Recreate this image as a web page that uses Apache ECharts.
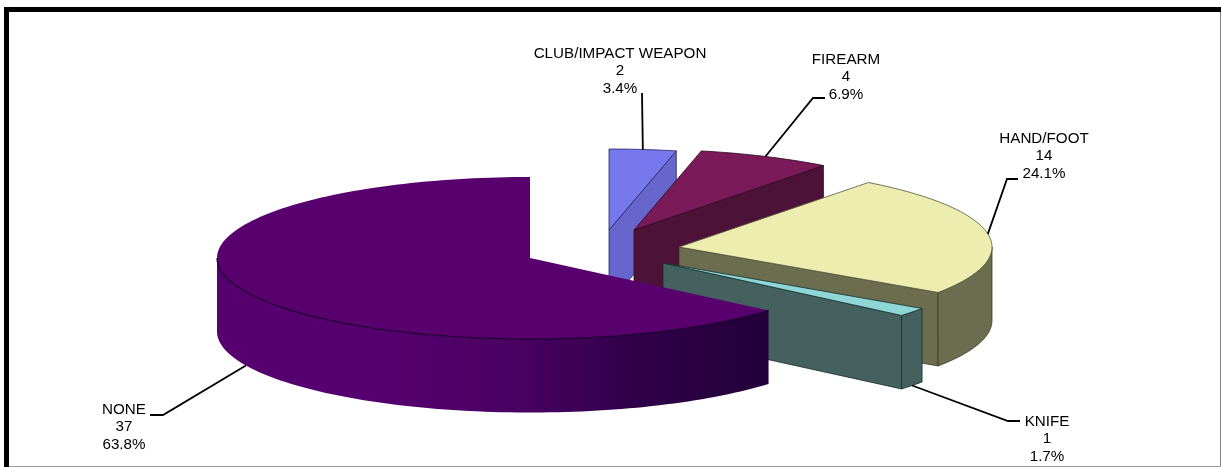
<!DOCTYPE html>
<html>
<head>
<meta charset="utf-8">
<style>html,body{margin:0;padding:0;background:#fff}#c{width:1221px;height:467px}</style>
<script src="https://cdn.jsdelivr.net/npm/echarts@6/dist/echarts.min.js"></script>
</head>
<body>
<div id="c"></div>
<script>
var categories = ['CLUB/IMPACT WEAPON', 'FIREARM', 'HAND/FOOT', 'KNIFE', 'NONE'];
var counts = [2, 4, 14, 1, 37];
var percents = ['3.4%', '6.9%', '24.1%', '1.7%', '63.8%'];

// Styling / layout, one entry per slice
var topColors  = ['#7878ee', '#7a1a58', '#ededb0', '#8fd6d6', '#59006f'];
var sideColors = ['#6666cc', '#4d1238', '#6c6c4e', '#44605f', null];
var edgeColors = ['#23235e', '#2e0a22', '#3a3a25', '#16302f', '#1c002e'];
var explode = [[79, -28], [104, -28], [149, -11], [133, 5], [0, 0]];
var labelPos = [[620, 53.5], [846, 59.5], [1044, 138.5], [1047, 421.5], [124, 409.5]];
var elbows = [
  [[642, 93]],
  [[825, 98], [813, 98]],
  [[1018, 179], [1007, 179]],
  [[1020, 421], [1008, 421]],
  [[150, 415], [163, 415]]
];
var anchorOnBottom = [false, false, false, true, true];

var CX = 530, CY = 258, RX = 313, RY = 81, DEPTH = 73.5;
var LINE = 17.6;
var total = counts.reduce(function (a, b) { return a + b; }, 0);
var starts = [], acc = 0;
counts.forEach(function (v) { starts.push(acc / total * 360); acc += v; });

function rim(i, deg) {
  var a = deg * Math.PI / 180;
  return [CX + explode[i][0] + RX * Math.sin(a), CY + explode[i][1] - RY * Math.cos(a)];
}
function down(p) { return [p[0], p[1] + DEPTH]; }
function arc(i, s, e) {
  var pts = [], n = Math.max(2, Math.ceil((e - s) / 1.5));
  for (var k = 0; k <= n; k++) pts.push(rim(i, s + (e - s) * k / n));
  return pts;
}

function renderSlice(params, api) {
  var i = params.dataIndex;
  var s = starts[i], e = s + api.value(1) / total * 360;
  var apex = [CX + explode[i][0], CY + explode[i][1]];
  var kids = [];
  var stroke = edgeColors[i];
  var isMain = i === 4;
  var side = sideColors[i] || {
    type: 'linear', x: 217, y: 0, x2: 769, y2: 0, global: true,
    colorStops: [
      { offset: 0, color: '#560070' }, { offset: 0.3, color: '#560070' },
      { offset: 0.56, color: '#480060' }, { offset: 0.75, color: '#30004a' },
      { offset: 1, color: '#22003a' }
    ]
  };
  // cut face at the slice's clockwise end
  if (!isMain) {
    var p = rim(i, e);
    kids.push({ type: 'polygon', shape: { points: [apex, p, down(p), down(apex)] },
      style: { fill: side, stroke: stroke, lineWidth: 0.8 } });
  }
  // outer rim, only the part facing the viewer
  var rs = Math.max(s, 90), re = Math.min(e, 270);
  if (re > rs) {
    var top = arc(i, rs, re);
    var bottom = top.map(down).reverse();
    kids.push({ type: 'polygon', shape: { points: top.concat(bottom) },
      style: { fill: side, stroke: isMain ? 'none' : stroke, lineWidth: 0.8 } });
  }
  // top face
  kids.push({ type: 'polygon', shape: { points: [apex].concat(arc(i, s, e)) },
    style: { fill: topColors[i], stroke: isMain ? 'none' : (i === 2 ? '#55553a' : stroke), lineWidth: 0.8 } });
  if (isMain && re > rs) {
    kids.push({ type: 'polyline', shape: { points: arc(i, rs, re) },
      style: { fill: 'none', stroke: stroke, lineWidth: 1.2 } });
  }
  return { type: 'group', children: kids };
}

function renderLabel(params, api) {
  var i = params.dataIndex;
  var mid = starts[i] + api.value(1) / total * 180;
  var anchor = rim(i, mid);
  if (anchorOnBottom[i]) anchor = down(anchor);
  var pts = elbows[i].concat([anchor]);
  var kids = [{ type: 'polyline', shape: { points: pts },
    style: { fill: 'none', stroke: '#000', lineWidth: 1.8 } }];
  [categories[i], String(counts[i]), percents[i]].forEach(function (t, k) {
    kids.push({ type: 'text', style: {
      text: t, x: labelPos[i][0], y: labelPos[i][1] + k * LINE,
      textAlign: 'center', textVerticalAlign: 'middle',
      font: '15.2px "Liberation Sans", Arial, sans-serif', fill: '#000'
    } });
  });
  return { type: 'group', children: kids };
}

var rows = categories.map(function (c, i) { return [c, counts[i]]; });
var chart = echarts.init(document.getElementById('c'), null, { renderer: 'canvas' });
chart.setOption({
  animation: false,
  backgroundColor: '#fff',
  graphic: [
    { type: 'rect', z: 10, shape: { x: 4, y: 7, width: 1217, height: 5 }, style: { fill: '#000' } },
    { type: 'rect', z: 10, shape: { x: 4, y: 7, width: 5, height: 460 }, style: { fill: '#000' } },
    { type: 'rect', z: 10, shape: { x: 1220, y: 12, width: 1, height: 455 }, style: { fill: '#808080' } },
    { type: 'rect', z: 10, shape: { x: 9, y: 466, width: 1212, height: 1 }, style: { fill: '#999' } }
  ],
  series: [
    { type: 'custom', coordinateSystem: 'none', silent: true, data: rows, renderItem: renderSlice, z: 2 },
    { type: 'custom', coordinateSystem: 'none', silent: true, data: rows, renderItem: renderLabel, z: 3 }
  ]
});
</script>
</body>
</html>
